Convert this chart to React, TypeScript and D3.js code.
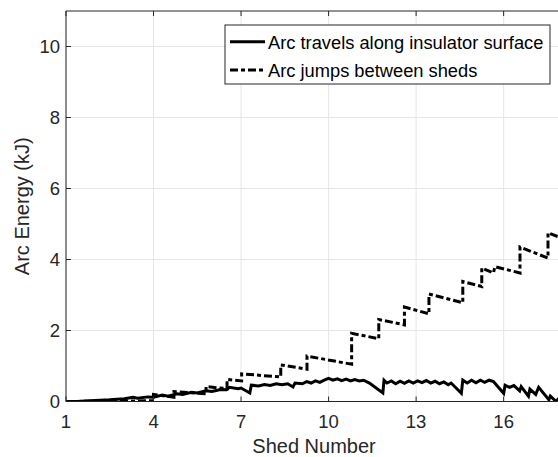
import React from "react";
import * as d3 from "d3";

const xTicks = [1, 4, 7, 10, 13, 16];
const yTicks = [0, 2, 4, 6, 8, 10];

const surfaceShed = [1.0, 1.5, 2.0, 2.5, 3.0, 3.3, 3.45, 3.8, 4.0, 4.3, 4.5, 4.8, 5.0, 5.3, 5.5, 5.8, 6.0, 6.3, 6.5, 6.6, 6.9, 7.0, 7.3, 7.35, 7.6, 7.8, 8.0, 8.2, 8.4, 8.6, 8.78, 8.85, 9.1, 9.25, 9.4, 9.55, 9.7, 9.85, 10.0, 10.15, 10.3, 10.45, 10.6, 10.75, 10.9, 11.05, 11.2, 11.4, 11.86, 11.9, 12.0, 12.15, 12.3, 12.45, 12.6, 12.75, 12.9, 13.05, 13.2, 13.35, 13.5, 13.65, 13.8, 13.95, 14.1, 14.2, 14.55, 14.6, 14.75, 14.9, 15.05, 15.2, 15.35, 15.5, 15.65, 16.0, 16.05, 16.2, 16.35, 16.55, 16.6, 16.85, 16.9, 17.1, 17.2, 17.55, 17.6, 17.8, 17.9, 18.0];
const surfaceEnergy = [0.0, 0.01, 0.03, 0.05, 0.08, 0.12, 0.09, 0.13, 0.12, 0.18, 0.15, 0.22, 0.2, 0.26, 0.24, 0.3, 0.28, 0.34, 0.33, 0.4, 0.36, 0.38, 0.24, 0.46, 0.44, 0.48, 0.45, 0.5, 0.47, 0.5, 0.41, 0.52, 0.5, 0.56, 0.52, 0.58, 0.54, 0.6, 0.65, 0.6, 0.64, 0.59, 0.63, 0.58, 0.62, 0.58, 0.6, 0.52, 0.24, 0.6, 0.52, 0.58, 0.5, 0.57, 0.51, 0.58, 0.52, 0.58, 0.53, 0.59, 0.52, 0.57, 0.5, 0.55, 0.47, 0.52, 0.23, 0.6, 0.52, 0.6, 0.53, 0.6, 0.54, 0.6, 0.56, 0.23, 0.46, 0.4, 0.45, 0.3, 0.42, 0.15, 0.35, 0.2, 0.4, 0.05, 0.15, 0.0, 0.1, 0.05];

const jumpShed = [1.0, 3.9, 4.0, 4.0, 4.7, 4.7, 5.8, 5.8, 6.52, 6.52, 7.02, 7.02, 8.36, 8.36, 9.26, 9.26, 10.79, 10.79, 11.72, 11.72, 12.6, 12.6, 13.44, 13.44, 14.6, 14.6, 15.25, 15.25, 15.65, 15.7, 16.56, 16.56, 17.52, 17.52, 18.0];
const jumpEnergy = [0.0, 0.02, 0.02, 0.2, 0.12, 0.28, 0.22, 0.42, 0.36, 0.62, 0.58, 0.78, 0.69, 1.03, 0.91, 1.28, 1.05, 1.92, 1.77, 2.31, 2.16, 2.66, 2.47, 3.03, 2.78, 3.38, 3.24, 3.76, 3.62, 3.8, 3.62, 4.35, 4.04, 4.75, 4.6];

const legendLabels = ["Arc travels along insulator surface", "Arc jumps between sheds"];

const W = 558;
const H = 457;
const left = 66;
const right = 562;
const top = 11;
const bottom = 401.5;
const axisColor = "#262626";
const gridColor = "#e6e6e6";
const font = "'Liberation Sans', Arial, Helvetica, sans-serif";
const dash = "8,3,4,3";

export default function App() {
  const x = d3.scaleLinear().domain([1, 18]).range([left, right]);
  const y = d3.scaleLinear().domain([0, 11]).range([bottom, top]);
  const line = d3
    .line<[number, number]>()
    .x((d) => x(d[0]))
    .y((d) => y(d[1]));
  const surface = surfaceShed.map((s, i) => [s, surfaceEnergy[i]] as [number, number]);
  const jumps = jumpShed.map((s, i) => [s, jumpEnergy[i]] as [number, number]);

  return (
    <svg
      width={W}
      height={H}
      style={{ position: "absolute", left: 0, top: 0, background: "#fff" }}
      fontFamily={font}
    >
      <defs>
        <clipPath id="plotclip">
          <rect x={left} y={top} width={right - left} height={bottom - top} />
        </clipPath>
      </defs>
      <rect x={0} y={0} width={W} height={H} fill="#fff" />
      {xTicks.map((t) => (
        <line key={"gx" + t} x1={x(t)} x2={x(t)} y1={top} y2={bottom} stroke={gridColor} strokeWidth={1} />
      ))}
      {yTicks.map((t) => (
        <line key={"gy" + t} x1={left} x2={right} y1={y(t)} y2={y(t)} stroke={gridColor} strokeWidth={1} />
      ))}
      <g clipPath="url(#plotclip)">
        <path d={line(surface) || ""} fill="none" stroke="#000" strokeWidth={3} />
        <path d={line(jumps) || ""} fill="none" stroke="#000" strokeWidth={3} strokeDasharray={dash} />
      </g>
      <line x1={left} x2={right} y1={bottom} y2={bottom} stroke={axisColor} strokeWidth={1} />
      <line x1={left} x2={right} y1={top} y2={top} stroke={axisColor} strokeWidth={1} />
      <line x1={left} x2={left} y1={top} y2={bottom} stroke={axisColor} strokeWidth={1} />
      {xTicks.map((t) => (
        <g key={"tx" + t}>
          <line x1={x(t)} x2={x(t)} y1={bottom} y2={bottom - 5} stroke={axisColor} />
          <line x1={x(t)} x2={x(t)} y1={top} y2={top + 5} stroke={axisColor} />
          <text x={x(t)} y={428} textAnchor="middle" fontSize={18.5} fill={axisColor}>
            {t}
          </text>
        </g>
      ))}
      {yTicks.map((t) => (
        <g key={"ty" + t}>
          <line x1={left} x2={left + 5} y1={y(t)} y2={y(t)} stroke={axisColor} />
          <text x={60} y={y(t)} dy="0.35em" textAnchor="end" fontSize={18.5} fill={axisColor}>
            {t}
          </text>
        </g>
      ))}
      <text x={(left + right) / 2} y={453} textAnchor="middle" fontSize={20} fill={axisColor}>
        Shed Number
      </text>
      <text
        transform={`translate(29,${(top + bottom) / 2}) rotate(-90)`}
        textAnchor="middle"
        fontSize={20}
        fill={axisColor}
      >
        Arc Energy (kJ)
      </text>
      <g>
        <rect x={225} y={25} width={325} height={59} fill="#fff" stroke={axisColor} strokeWidth={1} />
        <line x1={230} x2={265} y1={41.7} y2={41.7} stroke="#000" strokeWidth={3} />
        <line x1={230} x2={265} y1={70} y2={70} stroke="#000" strokeWidth={3} strokeDasharray={dash} />
        <text x={268} y={48.5} fontSize={18.3} fill="#000">
          {legendLabels[0]}
        </text>
        <text x={268} y={76.5} fontSize={18.3} fill="#000">
          {legendLabels[1]}
        </text>
      </g>
    </svg>
  );
}
